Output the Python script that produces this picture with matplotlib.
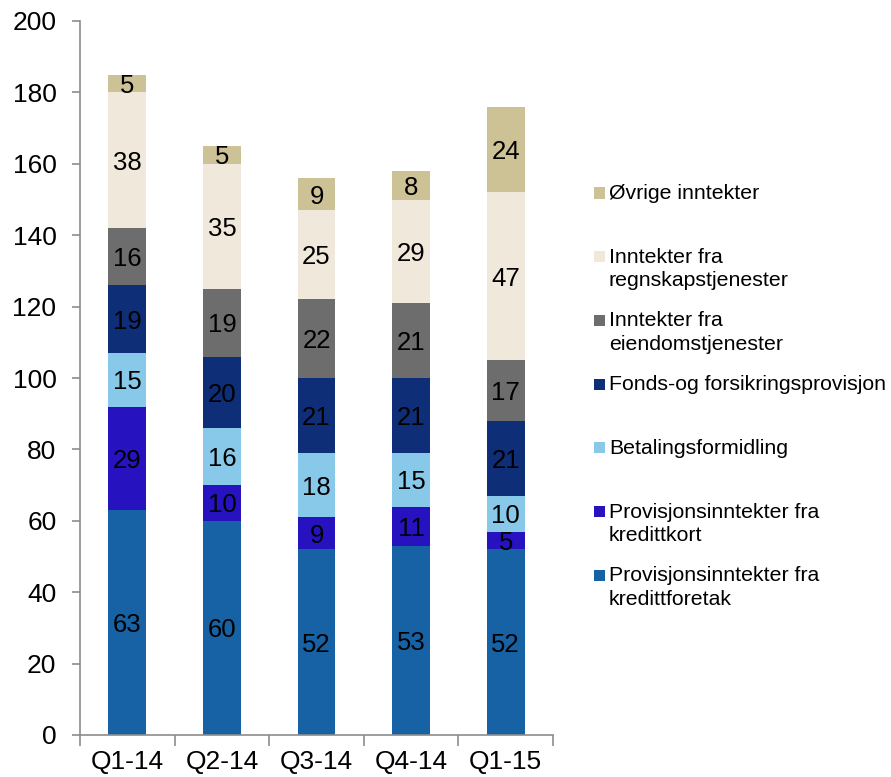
import matplotlib.pyplot as plt
import numpy as np
from matplotlib.patches import Rectangle

plt.rcParams['font.family'] = ['Liberation Sans', 'DejaVu Sans']

quarters = ['Q1-14', 'Q2-14', 'Q3-14', 'Q4-14', 'Q1-15']

# series, bottom to top
kredittforetak = [63, 60, 52, 53, 52]
kredittkort = [29, 10, 9, 11, 5]
betaling = [15, 16, 18, 15, 10]
fonds = [19, 20, 21, 21, 21]
eiendom = [16, 19, 22, 21, 17]
regnskap = [38, 35, 25, 29, 47]
ovrige = [5, 5, 9, 8, 24]

series_labels = [
    'Provisjonsinntekter fra\nkredittforetak',
    'Provisjonsinntekter fra\nkredittkort',
    'Betalingsformidling',
    'Fonds-og forsikringsprovisjon',
    'Inntekter fra\neiendomstjenester',
    'Inntekter fra\nregnskapstjenester',
    'Øvrige inntekter',
]
colors = ['#1761A5', '#2612BE', '#88C8E8', '#0E2E77',
          '#6D6D6D', '#EFE8DB', '#CDC196']

series = [kredittforetak, kredittkort, betaling, fonds, eiendom, regnskap, ovrige]

fig = plt.figure(figsize=(8.91, 7.77), dpi=100)
ax = fig.add_axes([80 / 891, 42 / 777, 473 / 891, 714 / 777])

x = np.arange(len(quarters))
bottom = np.zeros(len(quarters))
for vals, col in zip(series, colors):
    vals = np.array(vals)
    ax.bar(x, vals, 0.4, bottom=bottom, color=col, edgecolor='none')
    for xi, b, v in zip(x, bottom, vals):
        ax.text(xi, b + v / 2, str(v), ha='center', va='center_baseline',
                fontsize=18.5, color='black')
    bottom += vals

ax.set_xlim(-0.5, len(quarters) - 0.5)
ax.set_ylim(0, 200)
ax.set_yticks(np.arange(0, 201, 20))
ax.set_xticks(x)
ax.set_xticklabels(quarters)
ax.set_xticks(np.arange(-0.5, len(quarters), 1), minor=True)
ax.tick_params(axis='x', which='major', length=0, labelsize=19, pad=11)
ax.tick_params(axis='x', which='minor', length=8, color='#8C8C8C', width=1.2)
ax.tick_params(axis='y', length=6, color='#8C8C8C', width=1.2, labelsize=19, pad=11)
for s in ['top', 'right']:
    ax.spines[s].set_visible(False)
for s in ['left', 'bottom']:
    ax.spines[s].set_color('#8C8C8C')
    ax.spines[s].set_linewidth(1.2)

# legend, drawn like Excel: equal slots, top entry first
top_y = 193
step = 63.7
for i, (lab, col) in enumerate(zip(series_labels[::-1], colors[::-1])):
    yc = top_y + i * step
    fig.patches.append(Rectangle((594 / 891, 1 - (yc + 5.5) / 777), 11 / 891, 11 / 777,
                                 transform=fig.transFigure, facecolor=col, edgecolor='none'))
    fig.text(609 / 891, 1 - (yc - 9) / 777, lab, fontsize=15.3, va='top', ha='left',
             linespacing=1.3)

fig.savefig('out.png', dpi=100)
